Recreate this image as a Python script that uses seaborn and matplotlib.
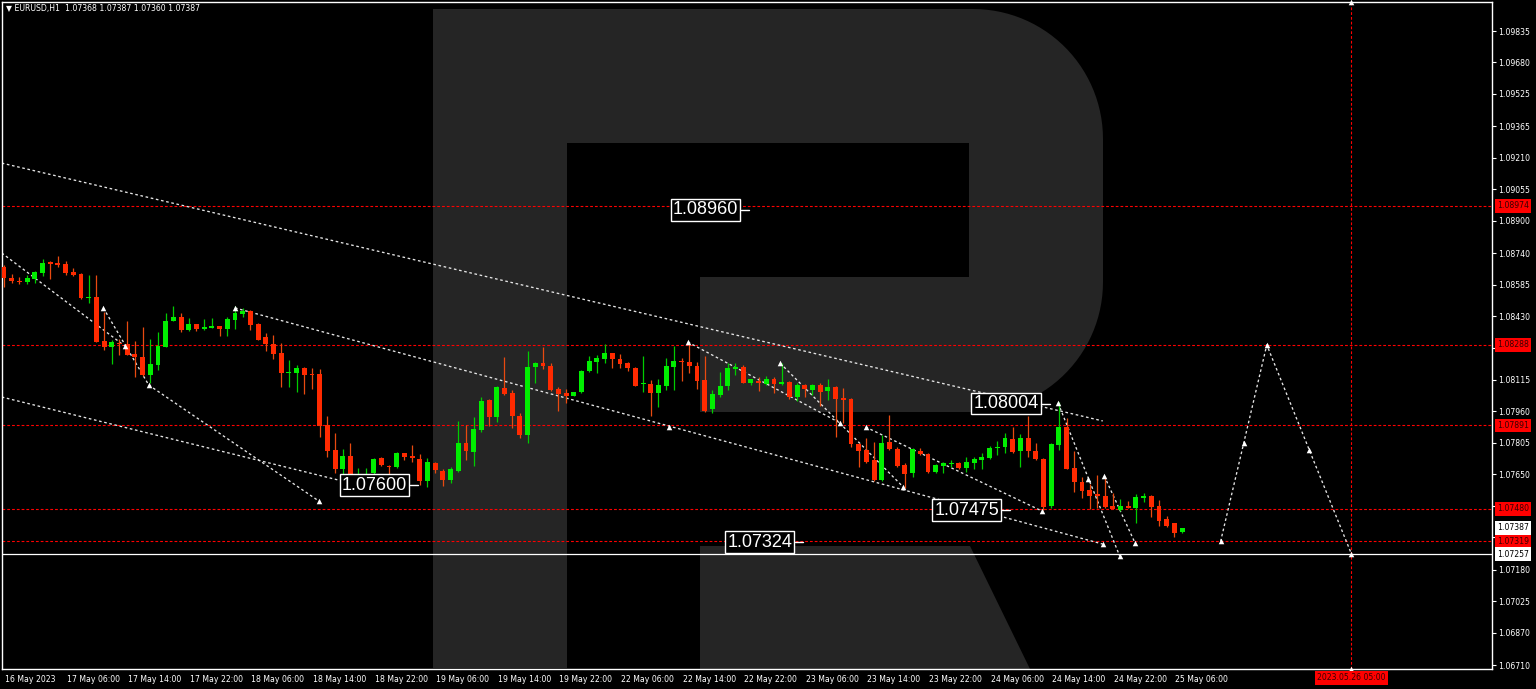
import numpy as np
import pandas as pd
import matplotlib
matplotlib.use("Agg")
import matplotlib.pyplot as plt
import matplotlib.transforms as mtransforms
from matplotlib.patches import Polygon, Rectangle
import seaborn as sns

# ---------------- data ----------------
opens = [
1.08670,1.08618,1.08602,1.08598,1.08614,1.08641,1.08695,1.08690,1.08686,1.08647,
1.08637,1.08517,1.08525,1.08307,1.08279,1.08299,1.08291,1.08242,1.08227,1.08139,
1.08190,1.08279,1.08406,1.08427,1.08361,1.08389,1.08366,1.08372,1.08381,1.08366,
1.08411,1.08440,1.08457,1.08389,1.08326,1.08291,1.08246,1.08148,1.08151,1.08173,
1.08145,1.08144,1.07893,1.07770,1.07675,1.07740,1.07622,1.07612,1.07655,1.07730,
1.07690,1.07684,1.07753,1.07740,1.07724,1.07617,1.07707,1.07668,1.07622,1.07668,
1.07803,1.07760,1.07868,1.08016,1.07931,1.08077,1.08049,1.07939,1.07842,1.08177,
1.08200,1.08185,1.08070,1.08049,1.08037,1.08054,1.08159,1.08203,1.08220,1.08247,
1.08218,1.08200,1.08175,1.08095,1.08095,1.08052,1.08085,1.08177,1.08208,1.08202,
1.08184,1.08115,1.07972,1.08041,1.08087,1.08167,1.08180,1.08099,1.08110,1.08095,
1.08118,1.08095,1.08105,1.08030,1.08090,1.08065,1.08090,1.08060,1.08079,1.08025,
1.08021,1.07799,1.07770,1.07720,1.07622,1.07808,1.07773,1.07696,1.07655,1.07765,
1.07748,1.07660,1.07690,1.07701,1.07707,1.07680,1.07707,1.07720,1.07732,1.07778,
1.07786,1.07822,1.07765,1.07827,1.07765,1.07724,1.07492,1.07794,1.07884,1.07682,
1.07610,1.07572,1.07551,1.07543,1.07493,1.07474,1.07493,1.07485,1.07534,1.07544,
1.07493,1.07428,1.07408,1.07368]
highs = [
1.08681,1.08636,1.08624,1.08632,1.08652,1.08711,1.08700,1.08726,1.08701,1.08668,
1.08644,1.08632,1.08632,1.08450,1.08312,1.08317,1.08406,1.08307,1.08377,1.08317,
1.08350,1.08446,1.08480,1.08444,1.08419,1.08389,1.08415,1.08419,1.08381,1.08424,
1.08480,1.08468,1.08460,1.08394,1.08346,1.08336,1.08299,1.08213,1.08189,1.08181,
1.08173,1.08168,1.07939,1.07852,1.07773,1.07803,1.07681,1.07681,1.07732,1.07737,
1.07694,1.07760,1.07753,1.07793,1.07750,1.07729,1.07712,1.07675,1.07687,1.07914,
1.07893,1.07934,1.08032,1.08021,1.08085,1.08230,1.08065,1.07951,1.08258,1.08205,
1.08279,1.08197,1.08082,1.08070,1.08057,1.08164,1.08233,1.08238,1.08291,1.08250,
1.08242,1.08205,1.08180,1.08233,1.08115,1.08118,1.08225,1.08284,1.08225,1.08299,
1.08205,1.08233,1.08065,1.08156,1.08197,1.08200,1.08189,1.08122,1.08131,1.08136,
1.08128,1.08197,1.08111,1.08098,1.08093,1.08095,1.08102,1.08118,1.08085,1.08074,
1.08024,1.07803,1.07828,1.07811,1.07844,1.07942,1.07786,1.07707,1.07778,1.07778,
1.07753,1.07701,1.07712,1.07720,1.07712,1.07737,1.07737,1.07753,1.07789,1.07814,
1.07852,1.07884,1.07847,1.07937,1.07803,1.07729,1.07803,1.08004,1.07926,1.07765,
1.07635,1.07602,1.07646,1.07638,1.07556,1.07526,1.07519,1.07553,1.07556,1.07548,
1.07523,1.07444,1.07411,1.07387]
lows = [
1.08575,1.08595,1.08590,1.08590,1.08595,1.08629,1.08611,1.08673,1.08634,1.08627,
1.08514,1.08493,1.08302,1.08263,1.08192,1.08237,1.08238,1.08128,1.08134,1.08099,
1.08164,1.08276,1.08406,1.08352,1.08358,1.08358,1.08361,1.08372,1.08332,1.08332,
1.08366,1.08424,1.08361,1.08312,1.08258,1.08218,1.08079,1.08079,1.08057,1.08044,
1.08070,1.07836,1.07737,1.07658,1.07622,1.07606,1.07612,1.07597,1.07638,1.07692,
1.07638,1.07682,1.07720,1.07710,1.07597,1.07588,1.07655,1.07593,1.07606,1.07663,
1.07720,1.07691,1.07860,1.07890,1.07910,1.08041,1.07880,1.07830,1.07806,1.08102,
1.08168,1.08060,1.07963,1.08003,1.08037,1.08052,1.08156,1.08151,1.08197,1.08173,
1.08173,1.08161,1.08085,1.08057,1.07939,1.07980,1.08068,1.08065,1.08111,1.08148,
1.08070,1.07958,1.07953,1.08032,1.08065,1.08139,1.08099,1.08090,1.08060,1.08090,
1.08049,1.08090,1.08020,1.08013,1.08030,1.08041,1.07986,1.08016,1.07836,1.07901,
1.07786,1.07687,1.07704,1.07618,1.07617,1.07770,1.07687,1.07582,1.07635,1.07745,
1.07655,1.07658,1.07658,1.07687,1.07675,1.07663,1.07675,1.07675,1.07724,1.07745,
1.07753,1.07756,1.07687,1.07737,1.07720,1.07475,1.07485,1.07770,1.07675,1.07563,
1.07531,1.07477,1.07482,1.07482,1.07480,1.07470,1.07482,1.07408,1.07515,1.07438,
1.07395,1.07388,1.07342,1.07360]
closes = [
1.08616,1.08605,1.08598,1.08616,1.08647,1.08693,1.08685,1.08681,1.08641,1.08632,
1.08519,1.08525,1.08304,1.08278,1.08301,1.08292,1.08240,1.08227,1.08139,1.08192,
1.08282,1.08407,1.08427,1.08361,1.08391,1.08365,1.08375,1.08381,1.08368,1.08414,
1.08444,1.08457,1.08387,1.08314,1.08291,1.08243,1.08151,1.08154,1.08173,1.08139,
1.08139,1.07890,1.07767,1.07675,1.07740,1.07618,1.07651,1.07632,1.07727,1.07697,
1.07684,1.07753,1.07737,1.07729,1.07618,1.07710,1.07671,1.07622,1.07678,1.07803,
1.07765,1.07875,1.08013,1.07931,1.08079,1.08044,1.07939,1.07842,1.08180,1.08197,
1.08184,1.08065,1.08046,1.08037,1.08057,1.08161,1.08208,1.08223,1.08250,1.08218,
1.08195,1.08173,1.08087,1.08099,1.08052,1.08090,1.08185,1.08208,1.08202,1.08184,
1.08111,1.07963,1.08044,1.08085,1.08173,1.08180,1.08102,1.08120,1.08102,1.08120,
1.08093,1.08105,1.08030,1.08090,1.08070,1.08090,1.08057,1.08082,1.08020,1.08016,
1.07798,1.07767,1.07712,1.07622,1.07806,1.07775,1.07692,1.07650,1.07773,1.07748,
1.07660,1.07696,1.07707,1.07707,1.07680,1.07712,1.07725,1.07737,1.07778,1.07786,
1.07827,1.07761,1.07827,1.07765,1.07724,1.07490,1.07798,1.07884,1.07676,1.07613,
1.07567,1.07544,1.07543,1.07487,1.07480,1.07493,1.07484,1.07539,1.07543,1.07490,
1.07421,1.07396,1.07359,1.07387]

time_tick_bars = [0, 8, 16, 24, 32, 40, 48, 56, 64, 72, 80, 88, 96, 104, 112, 120, 128, 136, 144, 152]
time_tick_labels = ["16 May 2023", "17 May 06:00", "17 May 14:00", "17 May 22:00", "18 May 06:00",
                    "18 May 14:00", "18 May 22:00", "19 May 06:00", "19 May 14:00", "19 May 22:00",
                    "22 May 06:00", "22 May 14:00", "22 May 22:00", "23 May 06:00", "23 May 14:00",
                    "23 May 22:00", "24 May 06:00", "24 May 14:00", "24 May 22:00", "25 May 06:00"]
price_ticks = [1.09835, 1.09680, 1.09525, 1.09365, 1.09210, 1.09055, 1.08900, 1.08740, 1.08585,
               1.08430, 1.08275, 1.08115, 1.07960, 1.07805, 1.07650, 1.07495, 1.07340, 1.07180,
               1.07025, 1.06870, 1.06710]
hidden_tick_labels = [1.08275, 1.07495, 1.07340]   # covered by the coloured price boxes

red_levels = [1.08974, 1.08288, 1.07891, 1.07480, 1.07319]
white_level = 1.07257
current_price = 1.07387
future_bar = 175
future_label = "2023.05.26 05:00"

# trend / wave lines: (bar0, price0, bar1, price1)
trend_lines = [
    (-0.3, 1.09184, 142.7, 1.07913),
    (30.0, 1.08470, 142.7, 1.07306),
    (-0.3, 1.08031, 43.4, 1.07622),
    (-0.3, 1.08741, 15.7, 1.08282),
    (12.9, 1.08470, 18.8, 1.08090),
    (18.8, 1.08090, 40.9, 1.07518),
    (88.8, 1.08302, 108.6, 1.07903),
    (100.8, 1.08198, 116.8, 1.07587),
    (111.9, 1.07883, 134.8, 1.07469),
    (136.9, 1.08001, 144.9, 1.07247),
    (142.9, 1.07641, 146.9, 1.07311),
]
marker_bars = [12.9, 15.7, 18.8, 30.0, 40.9, 86.4, 88.8, 100.8, 108.6, 111.9, 116.8,
               134.8, 136.9, 140.8, 142.9, 142.7, 144.9, 146.9]
marker_prices = [1.08470, 1.08282, 1.08090, 1.08470, 1.07518, 1.07883, 1.08302, 1.08198, 1.07903,
                 1.07883, 1.07587, 1.07469, 1.08001, 1.07627, 1.07641, 1.07306, 1.07247, 1.07311]

forecast_bars = [158, 161, 164, 169.5, 175]
forecast_prices = [1.07319, 1.07803, 1.08288, 1.07772, 1.07257]

big_label_texts = ["1.08960", "1.07600", "1.08004", "1.07475", "1.07324"]
big_label_bars = [95.7, 52.7, 134.7, 129.6, 102.7]     # right edge of each box
big_label_prices = [1.08953, 1.07597, 1.07999, 1.07474, 1.07316]

header = "\u25BC EURUSD,H1  1.07368 1.07387 1.07360 1.07387"

# ---------------- figure ----------------
sns.set_theme(style="dark")
plt.rcParams["font.family"] = ["DejaVu Sans"]

W, H = 1536, 689
fig = plt.figure(figsize=(W / 100, H / 100), dpi=100, facecolor="black")

# watermark (pixel coordinates)
bg = fig.add_axes([0, 0, 1, 1])
bg.set_xlim(0, W)
bg.set_ylim(H, 0)
bg.axis("off")
grey = "#252525"
r = 130
pts = [(433, 9), (973, 9)]
for a in np.linspace(-np.pi / 2, 0, 30):
    pts.append((973 + r * np.cos(a), 139 + r * np.sin(a)))
for a in np.linspace(0, np.pi / 2, 30):
    pts.append((973 + r * np.cos(a), 282 + r * np.sin(a)))
pts += [(433, 412)]
bg.add_patch(Polygon(pts, closed=True, fc=grey, ec="none"))
bg.add_patch(Rectangle((433, 400), 134, 268, fc=grey, ec="none"))
bg.add_patch(Rectangle((567, 143), 402, 134, fc="black", ec="none"))
bg.add_patch(Rectangle((567, 270), 133, 143, fc="black", ec="none"))
bg.add_patch(Polygon([(700, 546), (970, 546), (1030, 669), (700, 669)], closed=True, fc=grey, ec="none"))

ax = fig.add_axes([2 / W, 1 - 669 / H, 1490 / W, 667 / H])
ax.set_facecolor("none")
ax.set_xlim(-0.26, 193.25)
ax.set_ylim(1.066904, 1.09978)

df = pd.DataFrame({"open": opens, "high": highs, "low": lows, "close": closes})
df["bar"] = np.arange(len(df))
bull = df["close"] >= df["open"]
body_col = np.where(bull, "#00EE00", "#FF2A00")
wick_col = np.where(bull, "#00CC00", "#E84A10")

# level lines
for lv in red_levels:
    ax.axhline(lv, color="#FF0000", lw=0.8, ls=(0, (2.5, 1.8)), zorder=1)
ax.axhline(white_level, color="white", lw=0.9, zorder=1)
ax.axvline(future_bar, color="#FF0000", lw=0.8, ls=(0, (2.5, 1.8)), zorder=1)

# trend lines
dot = (0, (2.0, 2.0))
for (x0, p0, x1, p1) in trend_lines:
    ax.plot([x0, x1], [p0, p1], color="#E6E6E6", lw=0.95, ls=dot, zorder=2)

# forecast path
sns.lineplot(x=forecast_bars, y=forecast_prices, ax=ax, color="#E6E6E6", lw=0.95,
             linestyle=dot, sort=False, zorder=2)
sns.scatterplot(x=marker_bars + forecast_bars + [future_bar, future_bar],
                y=marker_prices + forecast_prices + [1.09978, 1.066904],
                ax=ax, color="white", marker="^", s=16, linewidth=0, zorder=4, clip_on=False)

# candles
ax.vlines(df["bar"], df["low"], df["high"], colors=wick_col, lw=0.9, zorder=3)
body_h = np.maximum((df["close"] - df["open"]).abs(), 0.00006)
ax.bar(df["bar"], body_h, bottom=np.minimum(df["open"], df["close"]), width=0.64,
       color=body_col, linewidth=0, zorder=3)

# big labels
for s, xb, yp in zip(big_label_texts, big_label_bars, big_label_prices):
    ax.text(xb - 0.35, yp, s, ha="right", va="center", fontsize=13, color="white",
            family=["Liberation Sans", "DejaVu Sans"], zorder=6,
            bbox=dict(boxstyle="square,pad=0.12", fc="black", ec="white", lw=1))
    ax.plot([xb, xb + 1.1], [yp, yp], color="white", lw=1, zorder=6)

# axes styling
for sp in ax.spines.values():
    sp.set_color("white")
    sp.set_linewidth(1)
ax.yaxis.tick_right()
ax.set_yticks(price_ticks)
ax.set_yticklabels(["" if v in hidden_tick_labels else f"{v:.5f}" for v in price_ticks])
ax.set_xticks(time_tick_bars)
ax.set_xticklabels(time_tick_labels, ha="left")
ax.tick_params(axis="both", colors="white", labelsize=5.6, length=3, width=0.8, direction="out")
ax.tick_params(axis="y", pad=1.5)
ax.tick_params(axis="x", pad=1.5)
offs = mtransforms.ScaledTranslation(1 / 100, 0, fig.dpi_scale_trans)
for lab in ax.get_xticklabels():
    lab.set_transform(lab.get_transform() + offs)
ax.grid(False)
ax.set_xlabel("")
ax.set_ylabel("")

# right-axis price boxes
trans_y = mtransforms.blended_transform_factory(ax.transAxes, ax.transData)
xlab = 1 + 5 / 1490
for lv in red_levels:
    ax.text(xlab, lv, f"{lv:.5f}", transform=trans_y, fontsize=5.6, color="#3A0000",
            va="center", ha="left", zorder=7, clip_on=False,
            bbox=dict(boxstyle="square,pad=0.3", fc="#FF0000", ec="none"))
for lv in [current_price, white_level]:
    ax.text(xlab, lv, f"{lv:.5f}", transform=trans_y, fontsize=5.6, color="black",
            va="center", ha="left", zorder=7, clip_on=False,
            bbox=dict(boxstyle="square,pad=0.3", fc="white", ec="none"))

# future time label
trans_x = mtransforms.blended_transform_factory(ax.transData, ax.transAxes)
ax.text(future_bar, -9 / 667, future_label, transform=trans_x, fontsize=5.6, color="#3A0000",
        ha="center", va="center", zorder=7, clip_on=False,
        bbox=dict(boxstyle="square,pad=0.3", fc="#FF0000", ec="none"))

fig.text(6 / W, 1 - 9 / H, header, color="white", fontsize=5.6, va="center", ha="left")

fig.savefig("out.png", dpi=100, facecolor="black")
